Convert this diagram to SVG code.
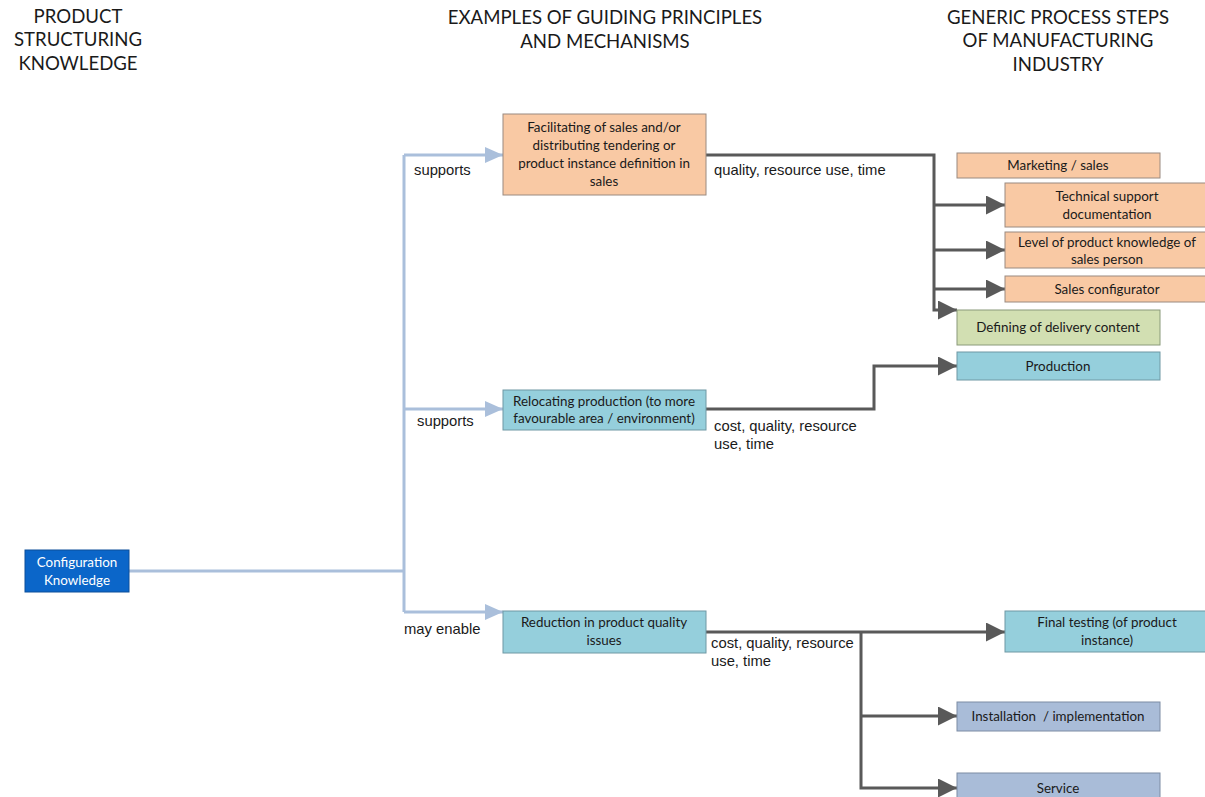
<svg xmlns="http://www.w3.org/2000/svg" width="1205" height="797" viewBox="0 0 1205 797">
  <defs>
    <marker id="arrow-light" markerUnits="userSpaceOnUse" markerWidth="18" markerHeight="18" refX="18" refY="8" orient="auto">
      <path d="M0,0 L18,8 L0,16 z" fill="#aabfdb"/>
    </marker>
    <marker id="arrow-dark" markerUnits="userSpaceOnUse" markerWidth="19" markerHeight="20" refX="19" refY="9.5" orient="auto">
      <path d="M0,0 L19,9.5 L0,19 z" fill="#595959"/>
    </marker>
    <style>
      .head { font-family: Lato, "Open Sans", sans-serif; font-size: 18.6px; fill: #1a1a1a; text-anchor: middle; }
      .box-text { font-family: Lato, "Open Sans", sans-serif; font-size: 13.4px; fill: #1a1a1a; text-anchor: middle; }
      .label { font-family: "Liberation Sans", Arial, sans-serif; font-size: 14.8px; fill: #1a1a1a; }
      .light { fill: none; stroke: #aabfdb; stroke-width: 3; }
      .dark { fill: none; stroke: #595959; stroke-width: 3; }
      .peach { fill: #f9c9a4; stroke: #9a8a80; stroke-width: 1; }
      .teal { fill: #95cfdc; stroke: #6f98a4; stroke-width: 1; }
      .green { fill: #d2dfb2; stroke: #8a9a7a; stroke-width: 1; }
      .lavender { fill: #a9bcd8; stroke: #7c8ca4; stroke-width: 1; }
      .blue { fill: #0b66c9; stroke: #0d4f9a; stroke-width: 1; }
      .on-blue { fill: #ffffff; }
    </style>
  </defs>

  <rect width="1205" height="797" fill="#ffffff"/>

  <!-- column headings -->
  <g id="headings">
    <text class="head" x="78" y="23">PRODUCT</text>
    <text class="head" x="78" y="46">STRUCTURING</text>
    <text class="head" x="78" y="70">KNOWLEDGE</text>
    <text class="head" x="605" y="24">EXAMPLES OF GUIDING PRINCIPLES</text>
    <text class="head" x="605" y="48">AND MECHANISMS</text>
    <text class="head" x="1058" y="24">GENERIC PROCESS STEPS</text>
    <text class="head" x="1058" y="47">OF MANUFACTURING</text>
    <text class="head" x="1058" y="71">INDUSTRY</text>
  </g>

  <!-- connectors -->
  <g id="connectors">
    <path class="light" d="M129,571 H404"/>
    <path class="light" d="M404,155 V612"/>
    <path class="light" d="M404,155 H503" marker-end="url(#arrow-light)"/>
    <path class="light" d="M404,409 H503" marker-end="url(#arrow-light)"/>
    <path class="light" d="M404,612 H503" marker-end="url(#arrow-light)"/>

    <path class="dark" d="M706,155 H934 V310 H957" marker-end="url(#arrow-dark)"/>
    <path class="dark" d="M934,205 H1005" marker-end="url(#arrow-dark)"/>
    <path class="dark" d="M934,250 H1005" marker-end="url(#arrow-dark)"/>
    <path class="dark" d="M934,289 H1005" marker-end="url(#arrow-dark)"/>

    <path class="dark" d="M706,409 H874 V366 H957" marker-end="url(#arrow-dark)"/>

    <path class="dark" d="M706,632 H1005" marker-end="url(#arrow-dark)"/>
    <path class="dark" d="M861,632 V788 H957" marker-end="url(#arrow-dark)"/>
    <path class="dark" d="M861,716 H957" marker-end="url(#arrow-dark)"/>

    <text class="label" x="414" y="175">supports</text>
    <text class="label" x="417" y="426">supports</text>
    <text class="label" x="404" y="634">may enable</text>
    <text class="label" x="714" y="175">quality, resource use, time</text>
    <text class="label" x="714" y="431">cost, quality, resource</text>
    <text class="label" x="714" y="449">use, time</text>
    <text class="label" x="711" y="648">cost, quality, resource</text>
    <text class="label" x="711" y="666">use, time</text>
  </g>

  <!-- source -->
  <g id="configuration-knowledge">
    <rect class="blue" x="25" y="550" width="104" height="42"/>
    <text class="box-text on-blue" x="77" y="567">Configuration</text>
    <text class="box-text on-blue" x="77" y="585">Knowledge</text>
  </g>

  <!-- guiding principles -->
  <g id="facilitating-sales">
    <rect class="peach" x="503" y="114" width="203" height="81"/>
    <text class="box-text" x="604" y="132">Facilitating of sales and/or</text>
    <text class="box-text" x="604" y="150">distributing tendering or</text>
    <text class="box-text" x="604" y="168">product instance definition in</text>
    <text class="box-text" x="604" y="186">sales</text>
  </g>
  <g id="relocating-production">
    <rect class="teal" x="503" y="390" width="203" height="40"/>
    <text class="box-text" x="604" y="406">Relocating production (to more</text>
    <text class="box-text" x="604" y="423">favourable area / environment)</text>
  </g>
  <g id="reduction-quality-issues">
    <rect class="teal" x="503" y="611" width="203" height="42"/>
    <text class="box-text" x="604" y="627">Reduction in product quality</text>
    <text class="box-text" x="604" y="645">issues</text>
  </g>

  <!-- process steps -->
  <g id="marketing-sales">
    <rect class="peach" x="957" y="153" width="203" height="25"/>
    <text class="box-text" x="1058" y="170">Marketing / sales</text>
  </g>
  <g id="technical-support">
    <rect class="peach" x="1005" y="183" width="210" height="44"/>
    <text class="box-text" x="1107" y="201">Technical support</text>
    <text class="box-text" x="1107" y="219">documentation</text>
  </g>
  <g id="product-knowledge">
    <rect class="peach" x="1005" y="232" width="210" height="36"/>
    <text class="box-text" x="1107" y="247">Level of product knowledge of</text>
    <text class="box-text" x="1107" y="264">sales person</text>
  </g>
  <g id="sales-configurator">
    <rect class="peach" x="1005" y="276" width="210" height="26"/>
    <text class="box-text" x="1107" y="294">Sales configurator</text>
  </g>
  <g id="delivery-content">
    <rect class="green" x="957" y="310" width="203" height="35"/>
    <text class="box-text" x="1058" y="332">Defining of delivery content</text>
  </g>
  <g id="production">
    <rect class="teal" x="957" y="352" width="203" height="28"/>
    <text class="box-text" x="1058" y="371">Production</text>
  </g>
  <g id="final-testing">
    <rect class="teal" x="1005" y="611" width="210" height="41"/>
    <text class="box-text" x="1107" y="627">Final testing (of product</text>
    <text class="box-text" x="1107" y="645">instance)</text>
  </g>
  <g id="installation">
    <rect class="lavender" x="957" y="702" width="203" height="29"/>
    <text class="box-text" x="1058" y="721" style="white-space: pre">Installation  / implementation</text>
  </g>
  <g id="service">
    <rect class="lavender" x="957" y="773" width="203" height="30"/>
    <text class="box-text" x="1058" y="793">Service</text>
  </g>
</svg>
